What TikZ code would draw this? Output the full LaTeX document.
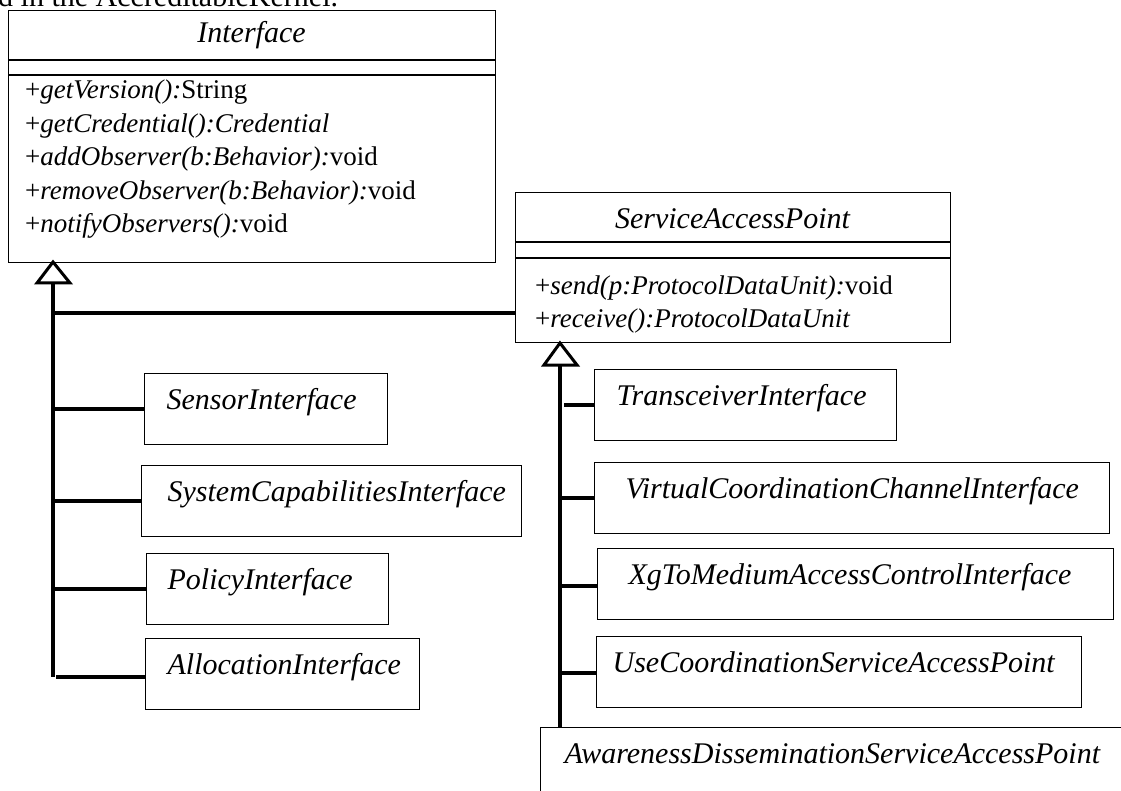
\documentclass[tikz,border=0pt]{standalone}
\usepackage{fontspec}
\setmainfont{Liberation Serif}
\newcommand\ttlfont{\fontsize{30}{36}\selectfont\itshape}
\newcommand\mthfont{\fontsize{27}{33}\selectfont}
\begin{document}
\begin{tikzpicture}[x=1pt,y=-1pt,
  box/.style={draw=black, line width=1.3pt, inner sep=0pt, anchor=north west},
  sepline/.style={line width=1.3pt},
  childbox/.style={draw=black, line width=1.3pt, anchor=north west, font=\ttlfont,
    text height=21pt, text depth=20pt, inner ysep=15pt},
  gen/.style={line width=4pt},
  tri/.style={line width=3pt, fill=white, line join=miter},
  meth/.style={anchor=base west, inner sep=0pt, font=\mthfont},
  ttl/.style={anchor=base, inner sep=0pt, font=\ttlfont}]
\useasboundingbox (0,0) rectangle (1121,791);
\clip (0,0) rectangle (1121,791);

\node[anchor=base west, inner sep=0pt, font=\fontsize{30}{36}\selectfont] (cap) at (-2,7) {d in the AccreditableKernel.};

% ---------- Interface ----------
\node[box, minimum width=487pt, minimum height=252pt] (iface) at (8,10) {};
\draw[sepline] ([yshift=-50pt]iface.north west) -- ([yshift=-50pt]iface.north east);
\draw[sepline] ([yshift=-65pt]iface.north west) -- ([yshift=-65pt]iface.north east);
\node[ttl] (ifaceT) at (251.5,43) {Interface};
\node[meth] (m1) at (25,99) {+\textit{getVersion():}String};
\node[meth] (m2) at (25,132.5) {+\textit{getCredential():Credential}};
\node[meth] (m3) at (25,166) {+\textit{addObserver(b:Behavior):}void};
\node[meth] (m4) at (25,199.5) {+\textit{removeObserver(b:Behavior):}void};
\node[meth] (m5) at (25,233) {+\textit{notifyObservers():}void};

% ---------- ServiceAccessPoint ----------
\node[box, minimum width=435pt, minimum height=150pt] (sap) at (515,192) {};
\draw[sepline] ([yshift=-50pt]sap.north west) -- ([yshift=-50pt]sap.north east);
\draw[sepline] ([yshift=-66pt]sap.north west) -- ([yshift=-66pt]sap.north east);
\node[ttl] (sapT) at (732.5,229) {ServiceAccessPoint};
\node[meth] (s1) at (535,295) {+\textit{send(p:ProtocolDataUnit):}void};
\node[meth] (s2) at (535,327) {+\textit{receive():ProtocolDataUnit}};

% ---------- left children ----------
\node[childbox, inner xsep=22pt] (sensor) at (144,373) {\makebox[199pt][l]{SensorInterface}};
\node[childbox, inner xsep=26pt] (syscap) at (141,465) {\makebox[328pt][l]{SystemCapabilitiesInterface}};
\node[childbox, inner xsep=21pt] (policy) at (146,553) {\makebox[200pt][l]{PolicyInterface}};
\node[childbox, inner xsep=22pt] (alloc) at (145,638) {\makebox[230pt][l]{AllocationInterface}};

% ---------- right children ----------
\node[childbox, inner xsep=22pt] (trans) at (594,369) {\makebox[258pt][l]{TransceiverInterface}};
\node[childbox, inner xsep=31pt] (vcc) at (594,462) {\makebox[453pt][l]{VirtualCoordinationChannelInterface}};
\node[childbox, inner xsep=31pt] (xg) at (597,548) {\makebox[454pt][l]{XgToMediumAccessControlInterface}};
\node[childbox, inner xsep=16pt] (usecoord) at (596,636) {\makebox[453pt][l]{UseCoordinationServiceAccessPoint}};
\node[childbox, inner xsep=24pt] (aware) at (540,727) {\makebox[552pt][l]{AwarenessDisseminationServiceAccessPoint}};

% ---------- generalization to Interface ----------
\coordinate (iapex) at (53,262);
\coordinate (ibase) at (53,283);
\coordinate (iend) at (53,677);
\coordinate (ijoin) at (53,313);
\draw[gen] (ibase) -- (iend);
\draw[gen] (ijoin) -- (ijoin -| sap.west);
\draw[gen] (sensor.west) -- (sensor.west -| ibase);
\draw[gen] (syscap.west) -- (syscap.west -| ibase);
\draw[gen] (policy.west) -- (policy.west -| ibase);
\draw[gen] ([yshift=-3pt]alloc.west) -- ([yshift=-3pt,xshift=3pt]alloc.west -| ibase);
\draw[tri] (iapex) -- ([xshift=-16pt]ibase) -- ([xshift=17pt]ibase) -- cycle;

% ---------- generalization to ServiceAccessPoint ----------
\coordinate (sapex) at (560,343);
\coordinate (sbase) at (560,365);
\draw[gen] (sbase) -- (aware.north -| sbase);
\draw[gen] (trans.west) -- ([xshift=4pt]trans.west -| sbase);
\draw[gen] (vcc.west) -- (vcc.west -| sbase);
\draw[gen] ([yshift=-2pt]xg.west) -- ([yshift=-2pt]xg.west -| sbase);
\draw[gen] ([yshift=-1pt]usecoord.west) -- ([yshift=-1pt]usecoord.west -| sbase);
\draw[tri] (sapex) -- ([xshift=-16pt]sbase) -- ([xshift=17pt]sbase) -- cycle;
\end{tikzpicture}
\end{document}
